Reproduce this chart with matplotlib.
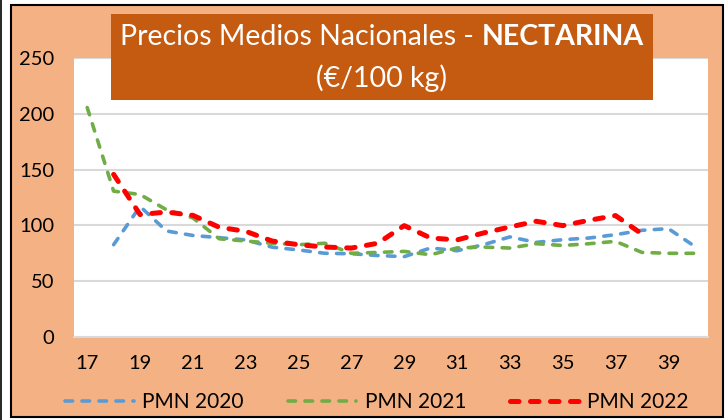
import numpy as np
import matplotlib
matplotlib.use("Agg")
import matplotlib.pyplot as plt
from matplotlib.patches import Rectangle
from matplotlib.lines import Line2D

plt.rcParams["font.family"] = ["Lato", "DejaVu Sans"]

# -------------------------------------------------------
# Daten (Semanas 17-40)
# -------------------------------------------------------
semanas = list(range(17, 41))
pmn_2020 = [np.nan, 82.7, 117.0, 95.0, 91.0, 89.0, 87.0, 80.5, 78.0, 75.0, 74.6, 73.0,
            72.0, 79.8, 77.3, 82.7, 89.7, 84.8, 87.2, 88.7, 91.7, 95.6, 97.1, 81.2]
pmn_2021 = [205.6, 130.7, 127.7, 114.0, 106.7, 88.0, 86.0, 84.0, 82.7, 84.0, 75.0, 75.8,
            76.7, 73.7, 79.8, 80.6, 79.7, 83.6, 82.0, 83.6, 85.7, 75.8, 75.0, 75.0]
pmn_2022 = [np.nan, 145.7, 109.7, 112.0, 109.0, 98.3, 94.7, 86.0, 82.7, 80.6, 79.7, 84.0,
            99.8, 88.7, 87.0, 93.2, 98.6, 103.7, 99.8, 104.6, 108.8, 92.3, np.nan, np.nan]
series_labels = ["PMN 2020", "PMN 2021", "PMN 2022"]
y_ticks = [0, 50, 100, 150, 200, 250]

W, H = 728, 420
fig = plt.figure(figsize=(W / 100, H / 100), dpi=100, facecolor="white")

def px(x, y):
    # Pixel (oben links) -> Figure-Koordinaten
    return x / W, 1 - y / H

# Rahmen + Hintergrund
x0, y0 = px(10.5, 416.5)
x1, y1 = px(722.5, 4.5)
fig.add_artist(Rectangle((x0, y0), x1 - x0, y1 - y0, transform=fig.transFigure,
                         facecolor="#F4B183", edgecolor="black", lw=1.5, zorder=0))
fig.add_artist(Line2D([1 / W, 1 / W], [0, 1], transform=fig.transFigure, color="black", lw=1.2))

# -------------------------------------------------------
# Plot
# -------------------------------------------------------
left, top = px(74, 58)
right, bottom = px(708, 337)
ax = fig.add_axes([left, bottom, right - left, top - bottom])
ax.set_facecolor("white")

pos = np.arange(len(semanas))
l1, = ax.plot(pos, pmn_2020, color="#5B9BD5", lw=2.6, dashes=(2.1, 2.6),
              dash_capstyle="round", label=series_labels[0])
l2, = ax.plot(pos, pmn_2021, color="#70AD47", lw=2.6, dashes=(2.1, 2.6),
              dash_capstyle="round", label=series_labels[1])
l3, = ax.plot(pos, pmn_2022, color="#FF0000", lw=3.6, dashes=(1.7, 2.3),
              dash_capstyle="round", label=series_labels[2])

ax.set_xlim(-0.5, len(semanas) - 0.5)
ax.set_ylim(0, 250)
ax.set_yticks(y_ticks)
ax.set_xticks(pos[::2])
ax.set_xticklabels([str(s) for s in semanas[::2]])
ax.yaxis.grid(True, color="#D9D9D9", lw=1.5)
ax.set_axisbelow(True)
for s in ["top", "left", "right"]:
    ax.spines[s].set_visible(False)
ax.spines["bottom"].set_color("#D9D9D9")
ax.spines["bottom"].set_linewidth(1.5)
ax.tick_params(axis="both", length=0, labelsize=14.5, colors="black")
ax.tick_params(axis="x", pad=13)
ax.tick_params(axis="y", pad=14)

# -------------------------------------------------------
# Titel-Box
# -------------------------------------------------------
bx0, by0 = px(111, 100)
bx1, by1 = px(653, 14)
fig.add_artist(Rectangle((bx0, by0), bx1 - bx0, by1 - by0, transform=fig.transFigure,
                         facecolor="#C55A11", edgecolor="none", zorder=5))
cx = (bx0 + bx1) / 2
ty1 = px(0, 37)[1]
ty2 = px(0, 78)[1]
t_norm = fig.text(0, ty1, "Precios Medios Nacionales - ", color="white", fontsize=20.5,
                  ha="left", va="center", zorder=6)
t_bold = fig.text(0, ty1, "NECTARINA", color="white", fontsize=20.5, fontweight="bold",
                  ha="left", va="center", zorder=6)
fig.text(cx, ty2, "(€/100 kg)", color="white", fontsize=20.5, ha="center", va="center", zorder=6)

fig.canvas.draw()
r = fig.canvas.get_renderer()
w_n = t_norm.get_window_extent(r).width / W
w_b = t_bold.get_window_extent(r).width / W
start = cx - (w_n + w_b) / 2
t_norm.set_x(start)
t_bold.set_x(start + w_n)

# -------------------------------------------------------
# Legende
# -------------------------------------------------------
fig.legend(handles=[l1, l2, l3], loc="center", bbox_to_anchor=(px(377, 0)[0], px(0, 402)[1]),
           ncol=3, frameon=False, fontsize=15, handlelength=3.3, handletextpad=0.4,
           columnspacing=2.1)

fig.savefig("out.png", dpi=100, facecolor=fig.get_facecolor())
